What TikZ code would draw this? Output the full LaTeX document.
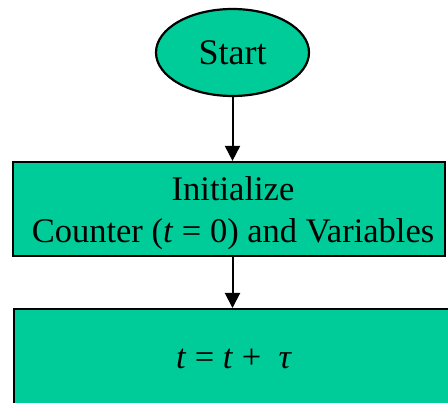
\documentclass[tikz,border=0pt]{standalone}
\usepackage{fontspec}
\setmainfont{Liberation Serif}
\usetikzlibrary{arrows.meta,shapes.geometric}
\definecolor{boxgreen}{RGB}{0,204,153}
\tikzset{
  flowline/.style={line width=2.2pt, draw=black, fill=boxgreen},
  startshape/.style={flowline, ellipse, minimum width=153pt, minimum height=87pt, inner sep=0pt,
    font=\fontsize{36}{40}\selectfont},
  procbox/.style={flowline, rectangle, inner sep=0pt},
  boxtext/.style={align=center, inner sep=0pt, font=\fontsize{34.5}{42}\selectfont},
  flowarrow/.style={line width=2pt, -{Triangle[width=15pt,length=15pt]}}
}
\begin{document}
\begin{tikzpicture}[x=1pt,y=-1pt]
  \useasboundingbox (0,0) rectangle (448,403);
  \clip (0,0) rectangle (448,403);
  % start terminal
  \node[startshape] (start) at (232.5,52.5) {Start};
  % initialisation block
  \node[procbox, minimum width=432pt, minimum height=94pt] (init) at (229,209) {};
  \node[boxtext] (initlabel) at (233,213) {Initialize\\Counter (\textit{t} = 0) and Variables};
  % time step block, running past the page edge
  \node[procbox, minimum width=442pt, minimum height=104pt, anchor=north west] (step) at (13,308) {};
  \node[boxtext] (stepeq) at (234,359) {\textit{t} = \textit{t} + \ \textit{τ}};
  % connectors
  \draw[flowarrow] (start.south) -- (start.south |- init.north);
  \draw[flowarrow] (init.south -| start.south) -- (start.south |- step.north);
\end{tikzpicture}
\end{document}
